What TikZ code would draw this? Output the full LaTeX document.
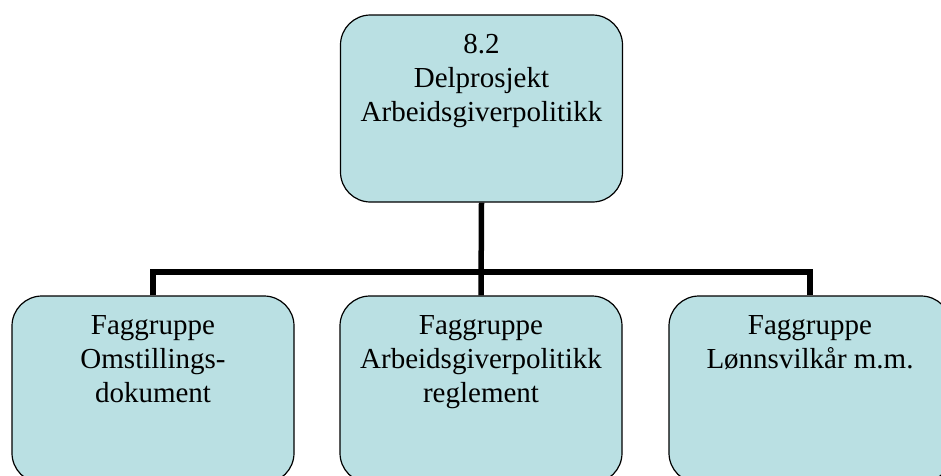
\documentclass[tikz,border=0pt]{standalone}
\usepackage{fontspec}
\setmainfont{Liberation Serif}
\definecolor{boxfill}{RGB}{186,224,227}
\tikzset{
  orgbox/.style={draw=black, line width=1.2pt, fill=boxfill, rounded corners=30pt,
    minimum width=282pt, minimum height=187pt, inner sep=0pt},
  boxtext/.style={anchor=north, align=center, inner sep=0pt,
    font=\fontsize{29}{34}\selectfont},
  conn/.style={line width=5.5pt, line join=miter, line cap=butt}
}
\begin{document}
\begin{tikzpicture}[x=1pt,y=-1pt]
\useasboundingbox (0,0) rectangle (941,475);
\clip (0,0) rectangle (941,475);
% boxes
\node[orgbox] (top) at (481.5,108.5) {};
\node[orgbox] (l) at (153,389.5) {};
\node[orgbox] (m) at (481,389.5) {};
\node[orgbox] (r) at (810,389.5) {};
% connectors
\coordinate (bus) at (481.5,272);
\draw[conn] (top.south) -- (m.north);
\draw[conn] (l.north) -- (l.north |- bus) -- (r.north |- bus) -- (r.north);
% texts
\node[boxtext] (ttop) at (481.5,34) {8.2\\Delprosjekt\\Arbeidsgiverpolitikk};
\node[boxtext] (tl) at (153,315) {Faggruppe\\Omstillings-\\dokument};
\node[boxtext] (tm) at (481,315) {Faggruppe\\Arbeidsgiverpolitikk\\reglement};
\node[boxtext] (tr) at (810,315) {Faggruppe\\Lønnsvilkår m.m.};
\end{tikzpicture}
\end{document}
